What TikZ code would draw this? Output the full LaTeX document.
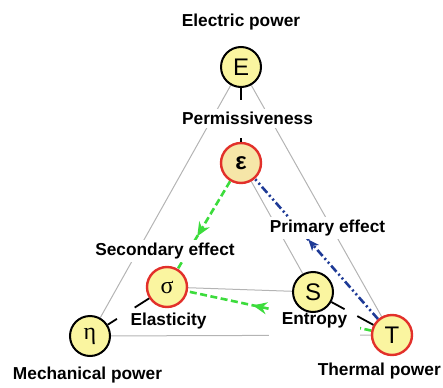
\documentclass[tikz,border=0pt]{standalone}
\usepackage{fontspec}
\setmainfont{Liberation Sans}
\newfontfamily\serifgr{Liberation Serif}
\usetikzlibrary{arrows.meta,calc,decorations.markings}
\definecolor{nodefill}{HTML}{FAF5A0}
\definecolor{epsfill}{HTML}{F6E6A8}
\definecolor{redline}{HTML}{E2302A}
\definecolor{greenarr}{HTML}{3CDC3C}
\definecolor{bluearr}{HTML}{1E3A96}
\definecolor{grayline}{HTML}{B4B4B4}
\pgfdeclarelayer{bg}
\pgfdeclarelayer{mid}
\pgfsetlayers{bg,mid,main}
\begin{document}
\begin{tikzpicture}[x=1pt,y=-1pt,
  circ/.style={circle,draw=black,line width=2pt,fill=nodefill,minimum size=40pt,inner sep=0pt,font=\fontsize{24}{24}\selectfont},
  redcirc/.style={circ,draw=redline,line width=2.4pt},
  lbl/.style={font=\bfseries\fontsize{17.3}{20}\selectfont,fill=white,inner sep=3pt,anchor=base},
  gry/.style={draw=grayline,line width=1pt},
  conn/.style={draw=black,line width=1.8pt},
  greenarrow/.style={draw=greenarr,line width=2.6pt,dash pattern=on 7pt off 3.5pt,
    postaction={decorate},
    decoration={markings,mark=at position #1 with {\arrow{Stealth[length=14pt,width=12pt,inset=4.5pt]}}}},
  bluearrow/.style={draw=bluearr,line width=2.6pt,dash pattern=on 8pt off 3pt on 2pt off 3pt on 2pt off 3pt,
    postaction={decorate},
    decoration={markings,mark=at position #1 with {\arrow{Stealth[length=11pt,width=9pt,inset=3pt]}}}}
]
\useasboundingbox (0,0) rectangle (443,387);

% circles
\node[circ] (E) at (241,67) {E};
\node[redcirc,fill=epsfill] (eps) at (241,163) {\bfseries ε};
\node[redcirc] (sig) at (167,287) {\serifgr σ};
\node[circ] (S) at (313,292) {S};
\node[circ] (eta) at (90,336) {\serifgr η};
\node[redcirc] (T) at (392,335) {T};

% background lines and arrows
\begin{pgfonlayer}{bg}
\draw[gry] (E.center) -- (eta.center);
\draw[gry] (E.center) -- (T.center);
\draw[gry] (eta.center) -- (T.center);
\draw[gry] (eps.center) -- (S.center);
\draw[gry] (sig.center) -- (S.center);
\draw[greenarrow=0.63] (eps) -- (sig);
\draw[greenarrow=0.645] (T) -- (sig);
\draw[bluearrow=0.567] (T) -- (eps);
\end{pgfonlayer}

% labels
\begin{pgfonlayer}{mid}
\node[lbl] (lelec) at (241,27) {Electric power};
\node[lbl] (lperm) at (247.5,124.4) {Permissiveness};
\node[lbl] (lprim) at (327.5,232.4) {Primary effect};
\node[lbl] (lsec) at (165,255.4) {Secondary effect};
\node[lbl] (lelas) at (168.5,325.4) {Elasticity};
\node[lbl,inner xsep=13pt,inner ysep=10.5pt] (lent) at (314.5,324.4) {Entropy};
\node[lbl] (lmech) at (87.5,379.4) {Mechanical power};
\node[lbl,anchor=base east,inner sep=1pt] (ltherm) at (442,375.4) {Thermal power};
\end{pgfonlayer}

% black connector stubs
\draw[conn] (E) -- ($(E)!0.344!(eps)$);
\draw[conn] (eps) -- ($(E)!0.74!(eps)$);
\draw[conn] (sig) -- ($(sig)!0.42!(eta)$);
\draw[conn] (eta) -- ($(sig)!0.65!(eta)$);
\draw[conn] (S) -- ($(S)!0.4!(T)$);
\draw[conn] (T) -- ($(S)!0.56!(T)$);
\end{tikzpicture}
\end{document}
